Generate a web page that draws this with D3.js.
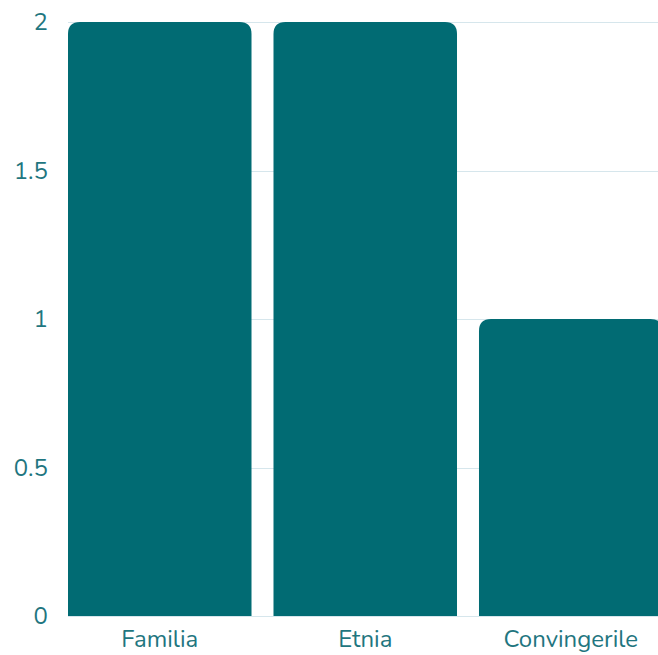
<!DOCTYPE html>
<html><head><meta charset="utf-8">
<script src="https://cdn.jsdelivr.net/npm/d3@7"></script>
<style>html,body{margin:0;padding:0;background:#fff;overflow:hidden}</style>
</head><body>
<svg id="c" width="658" height="655"></svg>
<script>
const categories = ["Familia", "Etnia", "Convingerile"];
const values = [2, 2, 1];
const yTicks = [0, 0.5, 1, 1.5, 2];
const yTickLabels = ["0", "0.5", "1", "1.5", "2"];

(function () {
const svg = d3.select("#c");
const mLeft = 68, mRight = 662.5, mTop = 22, mBottom = 616;
const x = d3.scaleBand().domain(categories).range([mLeft, mRight]).paddingInner(0.107).paddingOuter(0);
const y = d3.scaleLinear().domain([0, 2]).range([mBottom, mTop]);
const font = "Nunito, Lato, 'Open Sans', sans-serif";
const textColor = "#1f7680";

svg.append("g").selectAll("line").data(yTicks).join("line")
  .attr("x1", mLeft).attr("x2", 658)
  .attr("y1", d => Math.round(y(d)) + 0.5).attr("y2", d => Math.round(y(d)) + 0.5)
  .attr("stroke", "#d6e6ec").attr("stroke-width", 1);

const yAxis = d3.axisLeft(y).tickValues(yTicks).tickFormat((d, i) => yTickLabels[i]).tickSize(0).tickPadding(0);
const ya = svg.append("g").attr("transform", "translate(48,0)").call(yAxis);
ya.select(".domain").remove();
ya.selectAll("text").attr("font-family", font).attr("font-size", 24).attr("fill", textColor);

const r = 12;
svg.append("g").selectAll("path").data(values).join("path")
  .attr("fill", "#016b73")
  .attr("d", (d, i) => {
    const x0 = x(categories[i]), w = x.bandwidth(), y0 = y(d), y1 = y(0);
    return `M${x0},${y1}V${y0 + r}Q${x0},${y0} ${x0 + r},${y0}H${x0 + w - r}Q${x0 + w},${y0} ${x0 + w},${y0 + r}V${y1}Z`;
  });

const xAxis = d3.axisBottom(x).tickSize(0).tickPadding(14);
const xa = svg.append("g").attr("transform", `translate(0,${mBottom})`).call(xAxis);
xa.select(".domain").remove();
xa.selectAll("text").attr("font-family", font).attr("font-size", 24).attr("fill", textColor);
})();
</script>
</body></html>
